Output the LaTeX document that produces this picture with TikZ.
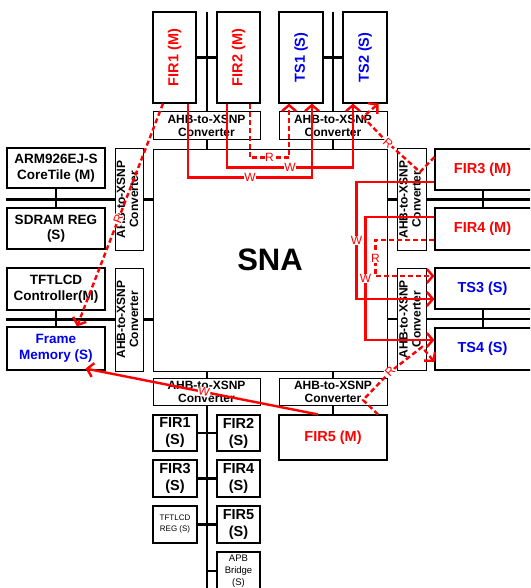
\documentclass[tikz,border=0pt]{standalone}
\usepackage{fontspec}
\usepackage{graphicx}
\setmainfont{Liberation Sans}
\usetikzlibrary{arrows.meta,backgrounds}
\definecolor{mred}{RGB}{255,0,0}
\definecolor{mblue}{RGB}{0,0,240}
\newcommand\BX[7]{\node[#6, minimum width={(#4)-(#2)}, minimum height={(#5)-(#3)}] (#1) at ({((#2)+(#4))/2},{((#3)+(#5))/2}) {#7};}
\newcommand\convrot{\rotatebox{90}{\begin{tabular}{@{}c@{}}AHB-to-XSNP\\Converter\end{tabular}}}
\begin{document}
\begin{tikzpicture}[x=1pt,y=-1pt,
  boxst/.style={draw=black, line width=1.1pt, fill=white, inner sep=0pt, align=center},
  convst/.style={boxst, line width=1pt, font=\fontsize{12}{13}\selectfont\bfseries},
  bigtxt/.style={boxst, font=\fontsize{14.5}{17}\selectfont\bfseries},
  midtxt/.style={boxst, font=\fontsize{13.5}{15.5}\selectfont\bfseries},
  bus/.style={line width=2.2pt, black},
  wsolid/.style={draw=mred, line width=2.4pt, -{Straight Barb[length=6pt,width=14pt]}},
  rdash/.style={wsolid, dash pattern=on 5pt off 3pt},
  lbl/.style={text=mred, fill=white, inner sep=0.6pt, font=\fontsize{12}{12}\selectfont},
]
\useasboundingbox (0,0) rectangle (530,588);
\clip (0,0) rectangle (530,588);

% SNA
\BX{sna}{153}{149}{387}{371}{boxst, line width=0.9pt, font=\fontsize{31}{31}\selectfont\bfseries}{SNA}

% top
\BX{fir1m}{153}{12}{196}{103}{bigtxt, text=mred}{\rotatebox{90}{FIR1 (M)}}
\BX{fir2m}{217}{12}{260}{103}{bigtxt, text=mred}{\rotatebox{90}{FIR2 (M)}}
\BX{ts1}{279}{12}{323}{103}{bigtxt, text=mblue}{\rotatebox{90}{TS1 (S)}}
\BX{ts2}{343}{12}{387}{103}{bigtxt, text=mblue}{\rotatebox{90}{TS2 (S)}}
\BX{convTL}{153}{112}{260}{140}{convst}{AHB-to-XSNP\\Converter}
\BX{convTR}{279}{112}{387}{140}{convst}{AHB-to-XSNP\\Converter}

% left
\BX{arm}{7}{148}{105}{188}{midtxt}{ARM926EJ-S\\CoreTile (M)}
\BX{sdram}{7}{208}{105}{249}{midtxt}{SDRAM REG\\(S)}
\BX{tftc}{7}{268}{105}{310}{midtxt}{TFTLCD\\Controller(M)}
\BX{fmem}{7}{327}{105}{370}{midtxt, text=mblue}{Frame\\Memory (S)}
\BX{convL1}{115}{149}{143}{250}{convst}{\convrot}
\BX{convL2}{115}{268}{143}{371}{convst}{\convrot}

% right
\BX{fir3}{435}{149}{540}{190}{bigtxt, text=mred}{\hspace*{-10pt}FIR3 (M)}
\BX{fir4}{435}{208}{540}{250}{bigtxt, text=mred}{\hspace*{-10pt}FIR4 (M)}
\BX{ts3}{435}{268}{540}{309}{bigtxt, text=mblue}{\hspace*{-10pt}TS3 (S)}
\BX{ts4}{435}{328}{540}{370}{bigtxt, text=mblue}{\hspace*{-10pt}TS4 (S)}
\BX{convR1}{397}{149}{426}{250}{convst}{\convrot}
\BX{convR2}{397}{268}{426}{370}{convst}{\convrot}

% bottom
\BX{convBL}{153}{378}{260}{405}{convst}{AHB-to-XSNP\\Converter}
\BX{convBR}{279}{378}{387}{405}{convst}{AHB-to-XSNP\\Converter}
\BX{fir5m}{279}{415}{387}{460}{bigtxt, text=mred}{FIR5 (M)}
\BX{fir1s}{153}{415}{197}{451}{bigtxt}{FIR1\\(S)}
\BX{fir2s}{217}{415}{260}{451}{bigtxt}{FIR2\\(S)}
\BX{fir3s}{153}{460}{197}{497}{bigtxt}{FIR3\\(S)}
\BX{fir4s}{217}{460}{260}{497}{bigtxt}{FIR4\\(S)}
\BX{tftreg}{153}{506}{197}{543}{boxst, font=\fontsize{8}{11}\selectfont}{TFTLCD\\REG (S)}
\BX{fir5s}{217}{506}{260}{543}{bigtxt}{FIR5\\(S)}
\BX{apb}{217}{552}{260}{590}{boxst, font=\fontsize{9.5}{12}\selectfont}{APB\\Bridge\\(S)}

% buses
\begin{scope}[on background layer]
\fill[white] (0,0) rectangle (530,588);
\coordinate (bt1) at (207,12);
\coordinate (bt2) at (333,12);
\coordinate (rx) at (530,0);
\coordinate (rs) at (483,0);
\coordinate (bb) at (207,588);
\draw[bus] (bt1) -- (bt1 |- sna.north);
\draw[bus] (bt2) -- (bt2 |- sna.north);
\draw[bus] (fir1m) -- (fir2m);
\draw[bus] (ts1) -- (ts2);
\draw[bus] (arm.west |- convL1.west) -- (convL1.west);
\draw[bus] (convL1.east) -- (convL1.east -| sna.west);
\draw[bus] (arm) -- (sdram);
\draw[bus] (tftc.west |- convL2.west) -- (convL2.west);
\draw[bus] (convL2.east) -- (convL2.east -| sna.west);
\draw[bus] (tftc) -- (fmem);
\draw[bus] (convR1.west -| sna.east) -- (convR1.west);
\draw[bus] (convR1.east) -- (convR1.east -| rx);
\draw[bus] (fir3.south -| rs) -- (fir4.north -| rs);
\draw[bus] (convR2.west -| sna.east) -- (convR2.west);
\draw[bus] (convR2.east) -- (convR2.east -| rx);
\draw[bus] (ts3.south -| rs) -- (ts4.north -| rs);
\draw[bus] (bb |- sna.south) -- (bb);
\draw[bus] (fir1s) -- (fir2s);
\draw[bus] (fir3s) -- (fir4s);
\draw[bus] (tftreg) -- (fir5s);
\draw[bus] (apb.west) -- (apb.west -| bb);
\draw[bus] (convBR.north |- sna.south) -- (fir5m.north);
\end{scope}

% red transfers
\draw[wsolid] ([xshift=13.5pt]fir1m.south) -- ++(0,74) -| node[lbl,pos=0.25]{W} ([xshift=11pt]ts1.south);
\draw[wsolid] ([xshift=-11.5pt]fir2m.south) -- ++(0,64) -| node[lbl,pos=0.25]{W} ([xshift=-12pt]ts2.south);
\draw[rdash] ([xshift=11.5pt]fir2m.south) -- ++(0,54) -| node[lbl,pos=0.25]{R} ([xshift=-12pt]ts1.south);

\draw[wsolid] ([yshift=-12.5pt]fir3.west) -- ++(-78,0) |- node[lbl,pos=0.25]{W} ([yshift=-10.5pt]ts3.west);
\draw[wsolid] ([yshift=12pt]fir4.west) -- ++(-69,0) |- node[lbl,pos=0.25]{W} ([yshift=9pt]ts4.west);
\draw[rdash] ([yshift=-11pt]fir4.west) -- ++(-59,0) |- node[lbl,pos=0.25]{R} ([yshift=12.5pt]ts3.west);

\coordinate (k1) at (420,172);
\coordinate (k2) at (388,143);
\coordinate (k3) at (363,117);
\draw[rdash] ([yshift=12.5pt]fir3.west) -- (k1) -- (k2) node[lbl,rotate=-42]{R} -- (k3) -- ([xshift=13.5pt]ts2.south);

\coordinate (k4) at (363,400);
\coordinate (k5) at (390,372);
\coordinate (k6) at (422,347);
\draw[rdash] ([xshift=45pt]fir5m.north) -- (k4) -- (k5) node[lbl,rotate=46]{R} -- (k6) -- ([yshift=-13pt]ts4.west);

\draw[rdash] ([xshift=-11.5pt]fir1m.south) -- node[lbl,sloped,pos=0.52]{R} ([xshift=21pt]fmem.north);
\draw[wsolid] ([xshift=-15pt]fir5m.north) -- node[lbl,sloped,pos=0.49]{W} ([xshift=-20pt,yshift=2pt]fmem.south east);
\end{tikzpicture}
\end{document}
